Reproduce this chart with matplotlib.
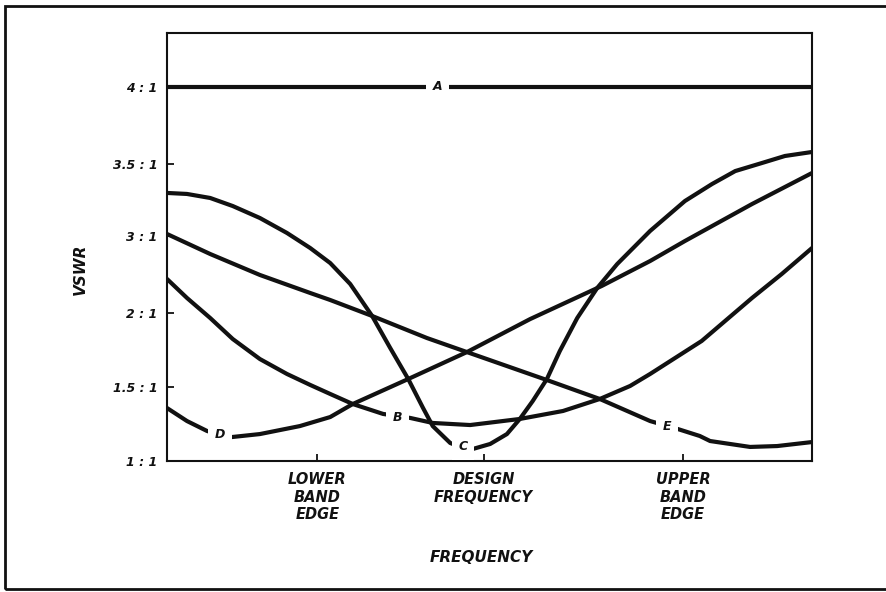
import numpy as np
import matplotlib
matplotlib.use("Agg")
import matplotlib.pyplot as plt
from matplotlib.patches import Rectangle

# ---- data -------------------------------------------------------------
# frequency across the plotted span, 0 .. 100 (arbitrary units)
freq_ticks = [23.3, 49.1, 80.0]
freq_tick_labels = ["LOWER\nBAND\nEDGE", "DESIGN\nFREQUENCY", "UPPER\nBAND\nEDGE"]

vswr_ticks = [1.0, 1.5, 2.0, 3.0, 3.5, 4.0]
vswr_tick_labels = ["1 : 1", "1.5 : 1", "2 : 1", "3 : 1", "3.5 : 1", "4 : 1"]

# curve A: constant mismatch
a_freq = [0.0, 100.0]
a_vswr = [4.0, 4.0]

# curve B
b_freq = [0.0, 3.1, 6.7, 10.2, 14.4, 18.6, 22.2, 25.3, 28.8, 33.5, 37.7,
          41.2, 47.0, 54.7, 61.4, 67.1, 71.8, 74.9, 82.9, 90.7, 95.3, 100.0]
b_vswr = [2.442, 2.195, 1.966, 1.824, 1.689, 1.588, 1.514, 1.453, 1.385,
          1.318, 1.291, 1.257, 1.243, 1.284, 1.338, 1.419, 1.507, 1.588,
          1.811, 2.195, 2.506, 2.844]

# curve C
c_freq = [0.0, 3.1, 6.7, 10.2, 14.4, 18.6, 22.2, 25.3, 28.4, 31.8, 34.6,
          37.4, 39.7, 41.2, 43.9, 45.9, 47.4, 50.1, 52.7, 54.7, 56.7, 58.9,
          60.9, 63.6, 66.7, 69.8, 74.9, 80.3, 84.5, 88.1, 92.2, 95.8, 100.0]
c_vswr = [3.299, 3.292, 3.264, 3.208, 3.125, 3.021, 2.844, 2.649, 2.377,
          1.980, 1.764, 1.554, 1.358, 1.236, 1.122, 1.088, 1.081, 1.115,
          1.182, 1.284, 1.405, 1.554, 1.743, 1.966, 2.325, 2.636, 3.035,
          3.243, 3.361, 3.451, 3.506, 3.552, 3.578]

# curve D
d_freq = [0.0, 3.1, 6.2, 8.2, 10.1, 14.4, 20.6, 25.3, 28.8, 37.4, 46.5,
          56.3, 67.4, 74.9, 80.3, 90.7, 100.0]
d_vswr = [1.358, 1.270, 1.203, 1.176, 1.162, 1.182, 1.236, 1.297, 1.385,
          1.554, 1.736, 1.959, 2.351, 2.675, 2.935, 3.222, 3.4375]

# curve E
e_freq = [0.0, 6.7, 14.4, 22.2, 25.3, 31.8, 40.3, 46.5, 58.9, 67.1, 74.9,
          79.2, 82.6, 84.2, 90.4, 94.6, 100.0]
e_vswr = [3.014, 2.766, 2.494, 2.260, 2.169, 1.980, 1.831, 1.736, 1.547,
          1.419, 1.270, 1.216, 1.169, 1.135, 1.095, 1.101, 1.128]

# curve letters: (letter, frequency, vswr)
curve_labels = [("A", 41.9, 4.0), ("B", 35.7, 1.297), ("C", 45.9, 1.095),
                ("D", 8.2, 1.176), ("E", 77.5, 1.236)]

# ---- vertical scale: VSWR graduations drawn at the chart's grid heights
scale_vswr = [1.0, 1.5, 2.0, 3.0, 3.5, 4.0, 5.0]
scale_height = [0.0, 74.0, 148.0, 225.0, 297.0, 374.0, 528.0]


def to_height(v):
    return np.interp(v, scale_vswr, scale_height)


def to_vswr(h):
    return np.interp(h, scale_height, scale_vswr)


W, H = 886, 592
fig = plt.figure(figsize=(W / 100, H / 100), dpi=100)
fig.patch.set_facecolor("white")

ax = fig.add_axes([167 / W, 1 - 461 / H, 645 / W, 428 / H])
ax.set_yscale("function", functions=(to_height, to_vswr))
ax.set_xlim(0, 100)
ax.set_ylim(1.0, to_vswr(428.0))

ink = "#111111"
curve_kw = dict(color=ink, lw=3.0, solid_capstyle="round",
                solid_joinstyle="round", zorder=2)
for fx, vy in [(a_freq, a_vswr), (b_freq, b_vswr), (c_freq, c_vswr),
               (d_freq, d_vswr), (e_freq, e_vswr)]:
    ax.plot(fx, vy, **curve_kw)

for letter, fx, vy in curve_labels:
    ax.text(fx, vy, letter, ha="center", va="center", fontsize=9,
            fontstyle="italic", fontweight="bold", color=ink, zorder=4,
            bbox=dict(boxstyle="square,pad=0.55", facecolor="white",
                      edgecolor="none"))

for side in ax.spines.values():
    side.set_linewidth(1.5)
    side.set_color(ink)

ax.set_xticks(freq_ticks)
ax.set_xticklabels(freq_tick_labels, fontsize=10.5, fontstyle="italic",
                   fontweight="bold", linespacing=1.2, color=ink)
ax.set_yticks(vswr_ticks)
ax.set_yticklabels(vswr_tick_labels, fontsize=9, fontstyle="italic",
                   fontweight="bold", color=ink)
ax.yaxis.set_minor_locator(matplotlib.ticker.NullLocator())
ax.tick_params(axis="both", direction="in", length=5, width=1.3, color=ink)
ax.tick_params(axis="x", pad=8)
ax.tick_params(axis="y", pad=7)

fig.text(481 / W, 1 - 557 / H, "FREQUENCY", ha="center", va="center",
         fontsize=11, fontstyle="italic", fontweight="bold", color=ink)
fig.text(80 / W, 1 - 269 / H, "VSWR", ha="center", va="center",
         rotation=90, fontsize=11, fontstyle="italic", fontweight="bold",
         color=ink)

# outer frame around the whole drawing
fig.add_artist(Rectangle((5 / W, 3 / H), 1.02, 583 / H,
                         transform=fig.transFigure, fill=False,
                         edgecolor=ink, lw=2.0))

fig.savefig("out.png", dpi=100, facecolor="white")
